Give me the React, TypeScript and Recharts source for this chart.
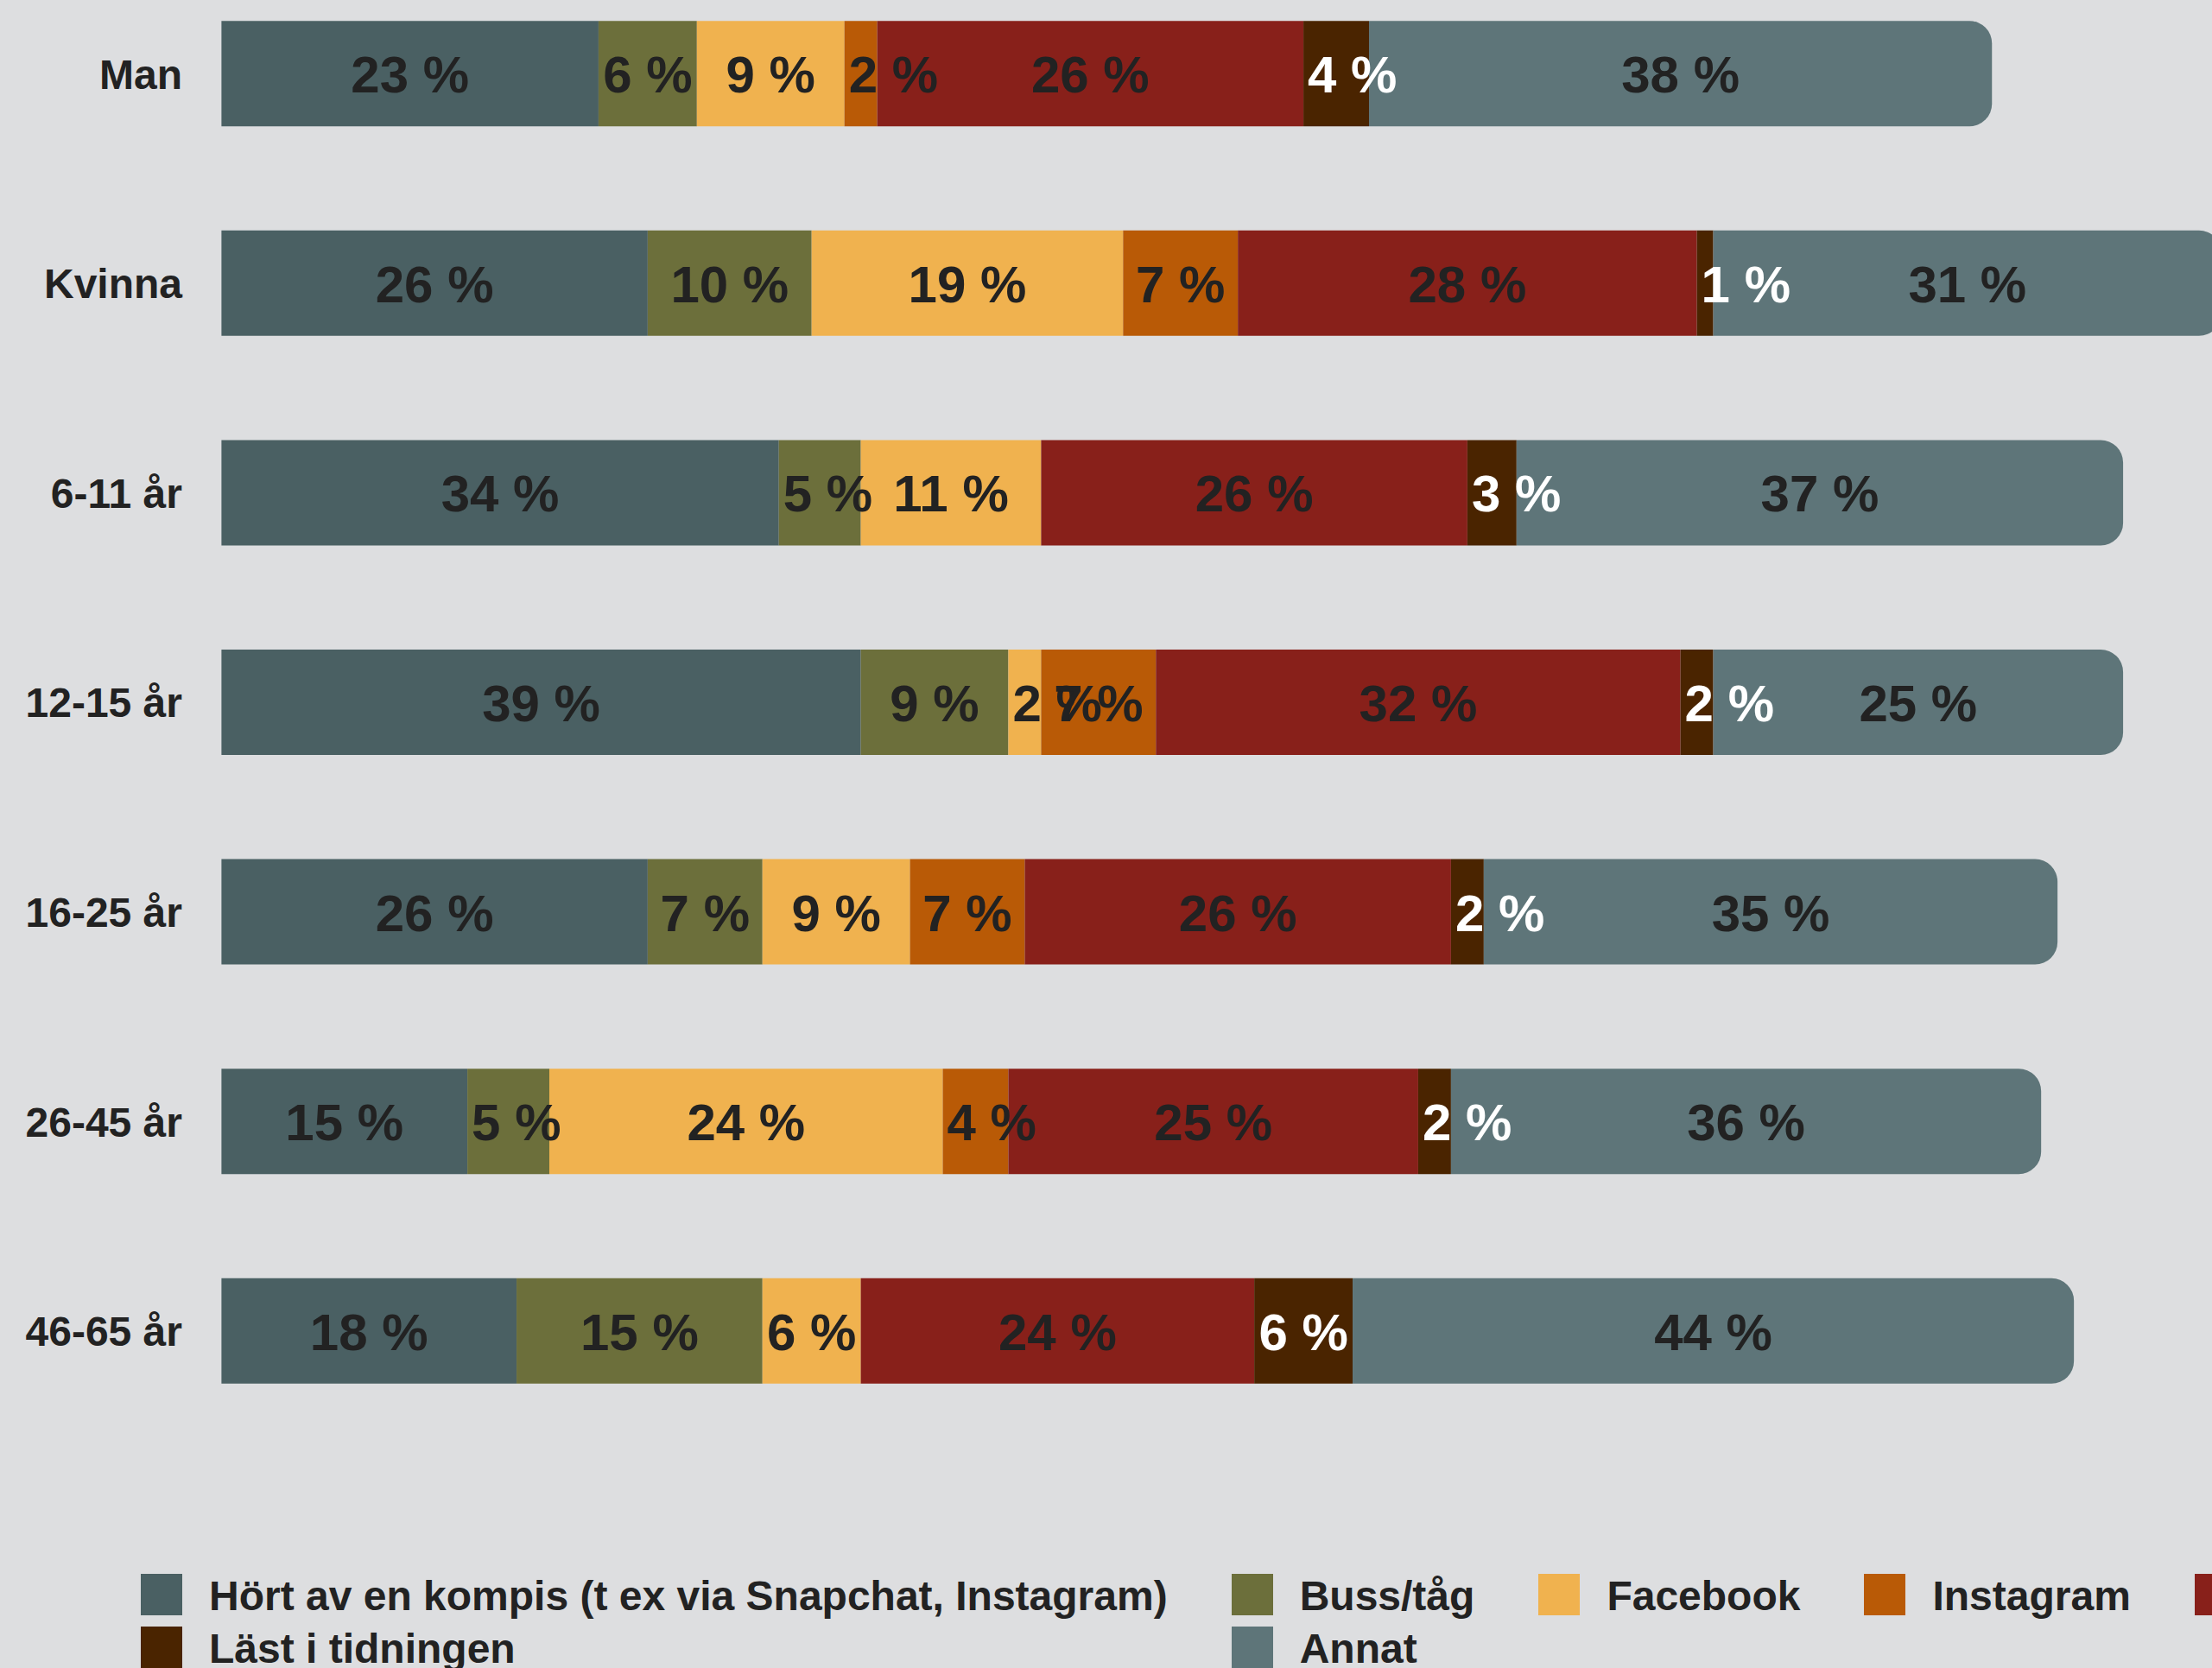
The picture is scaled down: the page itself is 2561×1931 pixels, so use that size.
import { BarChart, Bar, XAxis, YAxis, Legend, LabelList } from "recharts"

const categories = ["Man", "Kvinna", "6-11 år", "12-15 år", "16-25 år", "26-45 år", "46-65 år"]
const kompis = [23, 26, 34, 39, 26, 15, 18]
const buss = [6, 10, 5, 9, 7, 5, 15]
const facebook = [9, 19, 11, 2, 9, 24, 6]
const instagram = [2, 7, 0, 7, 7, 4, 0]
const affisch = [26, 28, 26, 32, 26, 25, 24]
const tidning = [4, 1, 3, 2, 2, 2, 6]
const annat = [38, 31, 37, 25, 35, 36, 44]

const series = [
  { key: "kompis", name: "Hört av en kompis (t ex via Snapchat, Instagram)", values: kompis, color: "#4a6063", text: "#222222" },
  { key: "buss", name: "Buss/tåg", values: buss, color: "#6c6f3b", text: "#222222" },
  { key: "facebook", name: "Facebook", values: facebook, color: "#f0b24f", text: "#222222" },
  { key: "instagram", name: "Instagram", values: instagram, color: "#b95a06", text: "#222222" },
  { key: "affisch", name: "Sett en affisch", values: affisch, color: "#88201a", text: "#222222" },
  { key: "tidning", name: "Läst i tidningen", values: tidning, color: "#4a2400", text: "#ffffff" },
  { key: "annat", name: "Annat", values: annat, color: "#5e7579", text: "#222222" },
]

const data = categories.map((name, i) => {
  const row: any = { name }
  series.forEach((s) => { row[s.key] = s.values[i] })
  return row
})

const FONT = "'Liberation Sans', Arial, Helvetica, sans-serif"
const BG = "#dddee0"

// rough Arial bold advance widths, to decide if a label fits in its segment
const charW: Record<string, number> = { " ": 0.278, "%": 0.889 }
function textWidth(s: string, size: number) {
  let w = 0
  for (const ch of s) w += (charW[ch] ?? 0.556) * size
  return w
}

function ValueLabel(props: any) {
  const { x, y, width, height, value, color } = props
  if (!value) return null
  const text = `${value} %`
  const fits = textWidth(text, 60) + 8 <= width
  return (
    <text
      x={fits ? x + width / 2 : x + 5}
      y={y + height / 2 + 22}
      textAnchor={fits ? "middle" : "start"}
      fill={color}
      fontSize={60}
      fontWeight={700}
      fontFamily={FONT}
    >
      {text}
    </text>
  )
}

function CategoryTick({ x, y, payload }: any) {
  return (
    <text x={x} y={y + 17} textAnchor="end" fill="#222222" fontSize={48} fontWeight={700} fontFamily={FONT}>
      {payload.value}
    </text>
  )
}

// legend keeps the series order (recharts would sort it by name)
function LegendGrid() {
  return (
    <div
      style={{
        display: "grid",
        gridTemplateColumns: "repeat(5, auto)",
        justifyContent: "start",
        columnGap: 74,
        rowGap: 13,
        fontFamily: FONT,
        fontWeight: 700,
        fontSize: 48,
        color: "#222222",
      }}
    >
      {series.map((s) => (
        <div key={s.key} style={{ display: "flex", alignItems: "center", height: 48, whiteSpace: "nowrap" }}>
          <span style={{ width: 48, height: 48, background: s.color, marginRight: 31, flex: "none" }} />
          <span style={{ lineHeight: "48px", paddingTop: 4 }}>{s.name}</span>
        </div>
      ))}
    </div>
  )
}

export default function App() {
  return (
    <div style={{ position: "fixed", left: 0, top: 0, width: 2561, height: 1931, overflow: "hidden", background: BG }}>
      <BarChart
        width={2750}
        height={1931}
        data={data}
        layout="vertical"
        margin={{ top: -35.8, right: 26.2, bottom: 268.6, left: 0 }}
      >
        <XAxis type="number" hide domain={[0, 130]} />
        <YAxis
          type="category"
          dataKey="name"
          width={256.4}
          axisLine={false}
          tickLine={false}
          tickSize={0}
          tickMargin={45.4}
          tick={<CategoryTick />}
          interval={0}
        />
        <Legend
          layout="horizontal"
          verticalAlign="middle"
          align="center"
          content={<LegendGrid />}
          wrapperStyle={{ top: 1822, left: 163, width: 2500, height: "auto" }}
        />
        {series.map((s, i) => (
          <Bar
            key={s.key}
            dataKey={s.key}
            name={s.name}
            stackId="a"
            fill={s.color}
            barSize={122}
            isAnimationActive={false}
            radius={i === series.length - 1 ? [0, 26, 26, 0] : 0}
          >
            <LabelList dataKey={s.key} content={(p: any) => <ValueLabel {...p} color={s.text} />} />
          </Bar>
        ))}
      </BarChart>
    </div>
  )
}
